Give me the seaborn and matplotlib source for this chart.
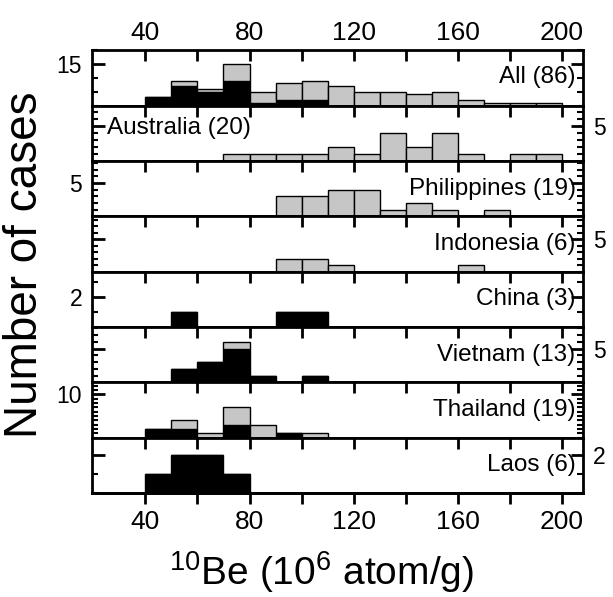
import numpy as np
import pandas as pd
import matplotlib
matplotlib.use('Agg')
import matplotlib.pyplot as plt
import seaborn as sns
from matplotlib.ticker import FixedLocator, MultipleLocator

# bin left edges, 10e6 atom/g (10-unit bins)
bin_left = [40, 50, 60, 70, 80, 90, 100, 110, 120, 130, 140, 150, 160, 170, 180, 190]

# counts per bin, black = lower (dark) group, gray = upper (light) group
all_black = [3, 7, 5, 9, 1, 2, 2, 0, 0, 0, 0, 0, 0, 0, 0, 0]
all_gray = [0, 2, 1, 6, 4, 6, 7, 7, 5, 5, 4, 5, 2, 1, 1, 1]
australia_gray = [0, 0, 0, 1, 1, 1, 1, 2, 1, 4, 2, 4, 1, 0, 1, 1]
philippines_gray = [0, 0, 0, 0, 0, 3, 3, 4, 4, 1, 2, 1, 0, 1, 0, 0]
indonesia_gray = [0, 0, 0, 0, 0, 2, 2, 1, 0, 0, 0, 0, 1, 0, 0, 0]
china_black = [0, 1, 0, 0, 0, 1, 1, 0, 0, 0, 0, 0, 0, 0, 0, 0]
vietnam_black = [0, 2, 3, 5, 1, 0, 1, 0, 0, 0, 0, 0, 0, 0, 0, 0]
vietnam_gray = [0, 0, 0, 1, 0, 0, 0, 0, 0, 0, 0, 0, 0, 0, 0, 0]
thailand_black = [2, 2, 0, 3, 0, 1, 0, 0, 0, 0, 0, 0, 0, 0, 0, 0]
thailand_gray = [0, 2, 1, 4, 3, 0, 1, 0, 0, 0, 0, 0, 0, 0, 0, 0]
laos_black = [1, 2, 2, 1, 0, 0, 0, 0, 0, 0, 0, 0, 0, 0, 0, 0]

panel_names = ['All (86)', 'Australia (20)', 'Philippines (19)', 'Indonesia (6)',
               'China (3)', 'Vietnam (13)', 'Thailand (19)', 'Laos (6)']
zeros = [0] * len(bin_left)
black_counts = [all_black, zeros, zeros, zeros, china_black, vietnam_black, thailand_black, laos_black]
gray_counts = [all_gray, australia_gray, philippines_gray, indonesia_gray, zeros, vietnam_gray, thailand_gray, zeros]
x_labels = ['40', '', '80', '', '120', '', '160', '', '200']

# per-panel axis setup: ymax, labelled tick, minor step, label side, text x, text y, text ha
layout = [
    (20.0, 15, 5, 'left', 0.985, 0.52, 'right'),
    (7.9, 5, 1, 'right', 0.03, 0.60, 'left'),
    (8.3, 5, 1, 'left', 0.985, 0.50, 'right'),
    (8.5, 5, 1, 'right', 0.985, 0.50, 'right'),
    (3.7, 2, 1, 'left', 0.985, 0.50, 'right'),
    (8.2, 5, 1, 'right', 0.985, 0.50, 'right'),
    (12.8, 10, 1, 'left', 0.985, 0.50, 'right'),
    (2.9, 2, 1, 'right', 0.985, 0.50, 'right'),
]

sns.set_style('ticks', {'axes.edgecolor': 'black', 'xtick.color': 'black',
                        'ytick.color': 'black', 'text.color': 'black'})
plt.rcParams['font.family'] = ['Liberation Sans', 'DejaVu Sans']
plt.rcParams['mathtext.default'] = 'regular'

fig = plt.figure(figsize=(6.13, 5.97), dpi=100)
axes = fig.subplots(8, 1, sharex=True, gridspec_kw=dict(hspace=0))
fig.subplots_adjust(left=0.150, right=0.951, top=0.916, bottom=0.174)

edges = bin_left + [bin_left[-1] + 10]
centers = [b + 5 for b in bin_left]
palette = {'black': 'black', 'gray': '#c6c6c6'}

for i, ax in enumerate(axes):
    df = pd.DataFrame({
        'be': centers + centers,
        'n': black_counts[i] + gray_counts[i],
        'kind': ['black'] * len(centers) + ['gray'] * len(centers),
    })
    sns.histplot(data=df, x='be', weights='n', hue='kind', hue_order=['gray', 'black'],
                 bins=edges, multiple='stack', palette=palette, alpha=1,
                 edgecolor='black', linewidth=1, legend=False, ax=ax)

    ymax, lab, step, side, tx, ty, ha = layout[i]
    ax.set_xlim(19.5, 208)
    ax.set_ylim(0, ymax)
    ax.set_xlabel('')
    ax.set_ylabel('')
    ax.set_xticks(range(40, 201, 20))
    ax.yaxis.set_major_locator(FixedLocator([lab]))
    ax.yaxis.set_minor_locator(MultipleLocator(step))
    ax.tick_params(axis='x', which='major', top=True, bottom=False, direction='in',
                   length=8, width=2, labelbottom=False, labeltop=(i == 0),
                   labelsize=19, pad=4)
    ax.tick_params(axis='y', which='major', left=True, right=True, direction='in',
                   length=9, width=2, labelsize=16.5, pad=7,
                   labelleft=(side == 'left'), labelright=(side == 'right'))
    ax.tick_params(axis='y', which='minor', left=True, right=True, direction='in',
                   length=4.5, width=1.5)
    for sp in ax.spines.values():
        sp.set_visible(True)
        sp.set_linewidth(2)
    ax.text(tx, ty, panel_names[i], transform=ax.transAxes, ha=ha, va='center',
            fontsize=17.5)

axes[0].set_xticklabels(x_labels)

# bottom axis with outward ticks and labels
sec = axes[-1].secondary_xaxis('bottom')
sec.set_xticks(range(40, 201, 20))
sec.set_xticklabels(x_labels)
sec.tick_params(direction='out', length=8, width=2, labelsize=19, pad=4)
sec.spines['bottom'].set_linewidth(2)

fig.text(0.524, 0.042, r'$^{10}$Be (10$^{6}$ atom/g)', ha='center', va='center', fontsize=28)
fig.text(0.040, 0.556, 'Number of cases', rotation=90, ha='center', va='center', fontsize=33)

plt.savefig('out.png', dpi=100)
